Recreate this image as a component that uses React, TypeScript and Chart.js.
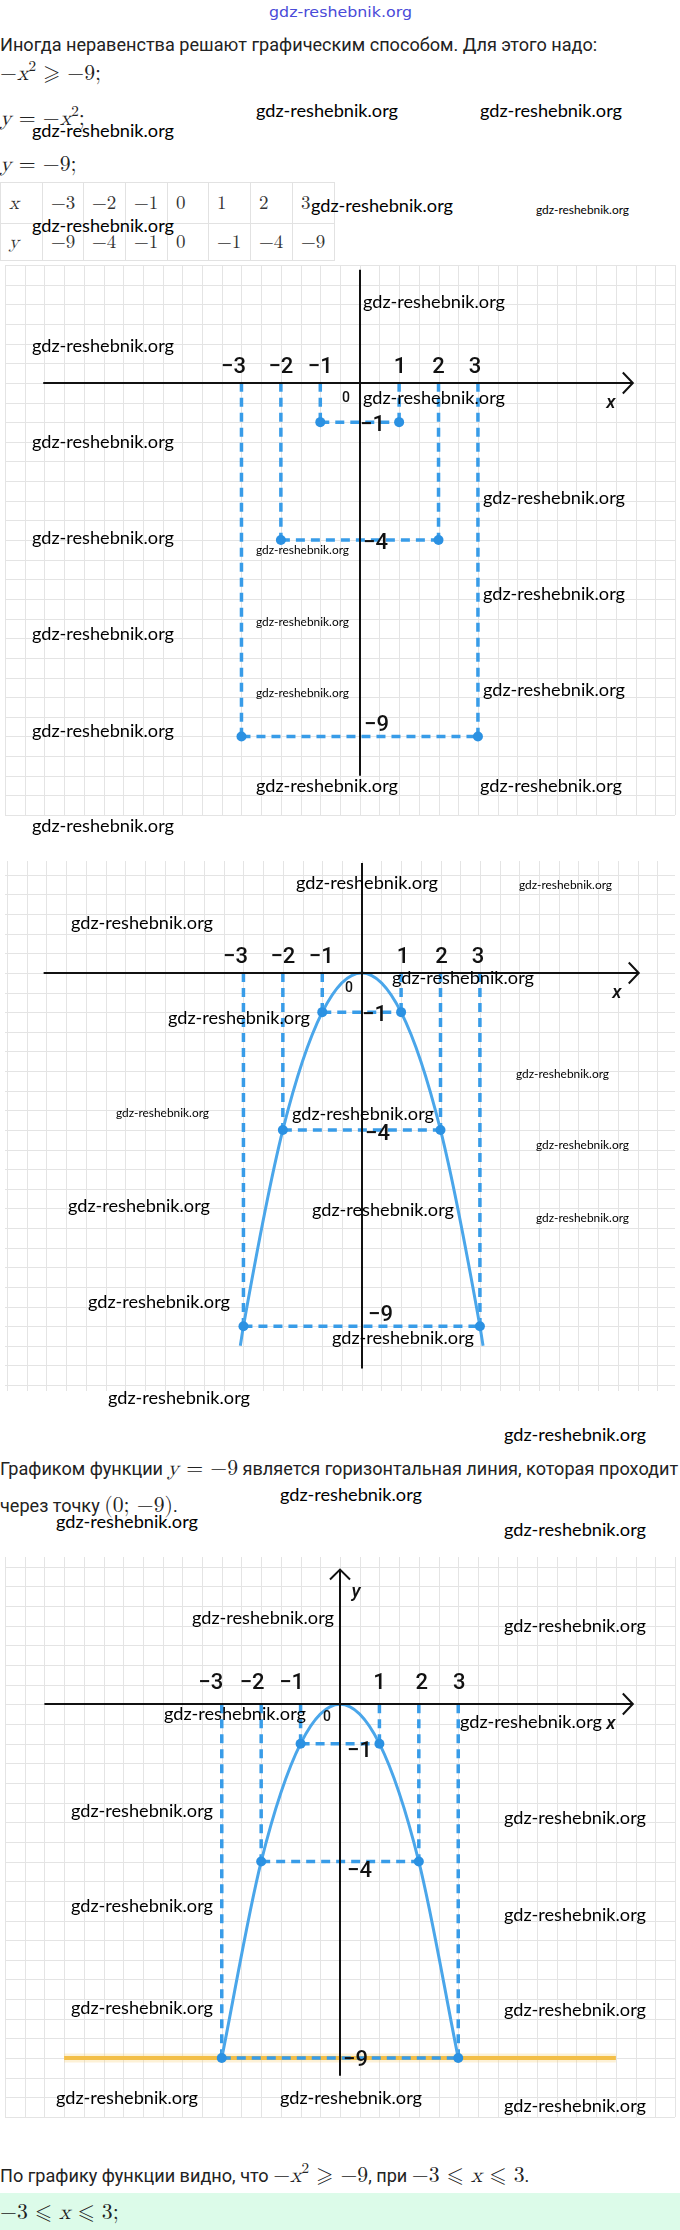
import React, { useEffect, useMemo, useRef } from "react";
import { Chart, registerables } from "chart.js";
Chart.register(...registerables);

// ---------- data ----------
const xValues = [-3, -2, -1, 0, 1, 2, 3];
const yValues = [-9, -4, -1, 0, -1, -4, -9];
const tableXLabels = ["−3", "−2", "−1", "0", "1", "2", "3"];
const tableYLabels = ["−9", "−4", "−1", "0", "−1", "−4", "−9"];
const xTickValues = [-3, -2, -1, 1, 2, 3];
const xTickLabels = ["−3", "−2", "−1", "1", "2", "3"];
const yTickValues = [-1, -4, -9];
const yTickLabels = ["−1", "−4", "−9"];
const curveEndX = [-3.08, 3.08];
const curveEndY = [-9.5, -9.5];
const horizLineY = -9;
const horizLineX = [-7, 7];

const WATERMARK = "gdz-reshebnik.org";

// ---------- fonts ----------
const PROSE = 'Roboto, "Noto Sans", sans-serif';
const MATHF = '"Latin Modern Math", "Liberation Serif", "DejaVu Serif", serif';
const WMF = 'Lato, "Open Sans", sans-serif';
const LABELF = 'Roboto, "Liberation Sans", sans-serif';

let measureCtx: CanvasRenderingContext2D | null = null;
function measure(text: string, font: string) {
  if (!measureCtx) measureCtx = document.createElement("canvas").getContext("2d");
  measureCtx!.font = font;
  return measureCtx!.measureText(text).width;
}

// ---------- chart helpers ----------
function pointData() {
  return xValues.map((x, i) => ({ x, y: yValues[i] })).filter((p) => p.x !== 0);
}
function guideData() {
  const d: any[] = [];
  xValues.forEach((x, i) => {
    if (x === 0) return;
    d.push({ x, y: 0 }, { x, y: yValues[i] }, { x, y: null });
  });
  xValues.forEach((x, i) => {
    if (x <= 0) return;
    const j = xValues.indexOf(-x);
    d.push({ x: -x, y: yValues[j] }, { x, y: yValues[i] }, { x, y: null });
  });
  return d;
}
function curveData(ext: boolean) {
  const pts = xValues.map((x, i) => ({ x, y: yValues[i] }));
  if (!ext) return pts;
  return [{ x: curveEndX[0], y: curveEndY[0] }, ...pts, { x: curveEndX[1], y: curveEndY[1] }];
}

type Cfg = {
  top: number; height: number; origin: [number, number];
  xAxis: [number, number]; yAxis: [number, number]; yArrow: boolean;
  xLabelDy: number; xLabelDx: number[];
  yLabel: { dx: number; dy: number }[];
  zero: [number, number]; xName: [number, number]; yName?: [number, number];
  curve: boolean; curveExt: boolean; orange: boolean;
};

const charts: Cfg[] = [
  {
    top: 260, height: 560, origin: [360, 380],
    xAxis: [-8.03, 6.93], yAxis: [-10, 2.88], yArrow: false,
    xLabelDy: -16, xLabelDx: [-8, 0, 0, 1, 0, -3],
    yLabel: [{ dx: 0, dy: 3 }, { dx: 3, dy: 3 }, { dx: 4, dy: -11 }],
    zero: [-14, 15], xName: [251, 20],
    curve: false, curveExt: false, orange: false,
  },
  {
    top: 856, height: 540, origin: [362, 970],
    xAxis: [-8.07, 7.03], yAxis: [-10.08, 2.8], yArrow: false,
    xLabelDy: -16, xLabelDx: [-8, 0, -1, 2, 1, -2],
    yLabel: [{ dx: 0, dy: 3 }, { dx: 3, dy: 5 }, { dx: 6, dy: -11 }],
    zero: [-13, 15], xName: [255, 20],
    curve: true, curveExt: true, orange: false,
  },
  {
    top: 1552, height: 570, origin: [340, 1702],
    xAxis: [-7.5, 7.43], yAxis: [-9.45, 3.43], yArrow: true,
    xLabelDy: -21, xLabelDx: [-11, -9, -9, 0, 3, 1],
    yLabel: [{ dx: 7, dy: 8 }, { dx: 7, dy: 10 }, { dx: 3, dy: 2 }],
    zero: [-13, 13], xName: [271, 20], yName: [16, -112],
    curve: true, curveExt: false, orange: true,
  },
];

const UNIT = 40;

function makePlugin(cfg: Cfg) {
  return {
    id: "mathAxes",
    beforeDatasetsDraw(chart: any) {
      const { ctx, chartArea: ca, scales } = chart;
      const x = scales.x, y = scales.y;
      ctx.save();
      ctx.strokeStyle = "#e4e4e4";
      ctx.lineWidth = 1;
      ctx.beginPath();
      for (let v = Math.ceil(x.min * 2) / 2; v <= x.max + 1e-9; v += 0.5) {
        const p = Math.round(x.getPixelForValue(v)) + 0.5;
        ctx.moveTo(p, ca.top);
        ctx.lineTo(p, ca.bottom);
      }
      for (let v = Math.ceil(y.min * 2) / 2; v <= y.max + 1e-9; v += 0.5) {
        const p = Math.round(y.getPixelForValue(v)) + 0.5;
        ctx.moveTo(ca.left, p);
        ctx.lineTo(ca.right, p);
      }
      ctx.stroke();
      ctx.restore();
    },
    afterDatasetsDraw(chart: any) {
      const { ctx, scales } = chart;
      const x = scales.x, y = scales.y;
      const px0 = Math.round(x.getPixelForValue(0));
      const py0 = Math.round(y.getPixelForValue(0));
      ctx.save();
      ctx.strokeStyle = "#111";
      ctx.lineWidth = 2;
      ctx.lineJoin = "miter";
      // x axis
      const xl = x.getPixelForValue(cfg.xAxis[0]);
      const xr = x.getPixelForValue(cfg.xAxis[1]);
      ctx.beginPath();
      ctx.moveTo(xl, py0);
      ctx.lineTo(xr, py0);
      ctx.stroke();
      ctx.beginPath();
      ctx.moveTo(xr - 10, py0 - 10.5);
      ctx.lineTo(xr, py0);
      ctx.lineTo(xr - 10, py0 + 10.5);
      ctx.stroke();
      // y axis
      const yt = y.getPixelForValue(cfg.yAxis[1]);
      const yb = y.getPixelForValue(cfg.yAxis[0]);
      ctx.beginPath();
      ctx.moveTo(px0, yt);
      ctx.lineTo(px0, yb);
      ctx.stroke();
      if (cfg.yArrow) {
        ctx.beginPath();
        ctx.moveTo(px0 - 10, yt + 10);
        ctx.lineTo(px0, yt);
        ctx.lineTo(px0 + 10, yt + 10);
        ctx.stroke();
      }
      // labels
      ctx.fillStyle = "#111";
      ctx.textBaseline = "middle";
      ctx.font = `500 22px ${LABELF}`;
      ctx.textAlign = "center";
      xTickValues.forEach((v, i) => {
        ctx.fillText(xTickLabels[i], x.getPixelForValue(v) + cfg.xLabelDx[i], py0 + cfg.xLabelDy);
      });
      ctx.textAlign = "left";
      yTickValues.forEach((v, i) => {
        ctx.fillText(yTickLabels[i], px0 + cfg.yLabel[i].dx, y.getPixelForValue(v) + cfg.yLabel[i].dy);
      });
      ctx.textAlign = "center";
      ctx.font = `500 14px ${LABELF}`;
      ctx.fillText("0", px0 + cfg.zero[0], py0 + cfg.zero[1]);
      ctx.font = `italic 500 19px ${LABELF}`;
      ctx.fillText("x", px0 + cfg.xName[0], py0 + cfg.xName[1]);
      if (cfg.yName) ctx.fillText("y", px0 + cfg.yName[0], py0 + cfg.yName[1]);
      ctx.restore();
    },
  };
}

function Plot({ cfg }: { cfg: Cfg }) {
  const ref = useRef<HTMLCanvasElement>(null);
  useEffect(() => {
    const [ox, oy] = cfg.origin;
    const xMin = -ox / UNIT;
    const xMax = (680 - ox) / UNIT;
    const yMax = (oy - cfg.top) / UNIT;
    const yMin = -(cfg.top + cfg.height - oy) / UNIT;
    const datasets: any[] = [
      {
        data: pointData(), showLine: false, pointRadius: 5, pointHoverRadius: 5,
        pointBackgroundColor: "#2b91e2", pointBorderWidth: 0, order: 0,
      },
    ];
    if (cfg.curve) {
      datasets.push({
        data: curveData(cfg.curveExt), showLine: true, borderColor: "#4aa6ea", borderWidth: 3,
        pointRadius: 0, cubicInterpolationMode: "monotone", order: 1,
      });
    }
    datasets.push({
      data: guideData(), showLine: true, borderColor: "#389ce8", borderWidth: 3.5,
      borderDash: [9, 6], pointRadius: 0, spanGaps: false, order: 2,
    });
    if (cfg.orange) {
      const od = horizLineX.map((xv) => ({ x: xv, y: horizLineY }));
      datasets.push({
        data: od, showLine: true, borderColor: "#f3bf48", borderWidth: 4, pointRadius: 0, order: 3,
      });
      datasets.push({
        data: od, showLine: true, borderColor: "rgba(250,210,120,0.3)", borderWidth: 9, pointRadius: 0, order: 4,
      });
    }
    const chart = new Chart(ref.current!, {
      type: "scatter",
      data: { datasets },
      options: {
        animation: false,
        responsive: false,
        maintainAspectRatio: false,
        devicePixelRatio: 1,
        events: [],
        layout: { padding: 0 },
        plugins: { legend: { display: false }, tooltip: { enabled: false } },
        scales: {
          x: { type: "linear", display: false, min: xMin, max: xMax },
          y: { type: "linear", display: false, min: yMin, max: yMax },
        },
      },
      plugins: [makePlugin(cfg)],
    } as any);
    return () => chart.destroy();
  }, [cfg]);
  return (
    <canvas
      ref={ref}
      width={680}
      height={cfg.height}
      style={{ position: "absolute", left: 0, top: cfg.top, width: 680, height: cfg.height }}
    />
  );
}

// ---------- text helpers ----------
function V({ children }: any) {
  return <i style={{ fontFamily: MATHF }}>{children}</i>;
}
function Sup({ children }: any) {
  return <span style={{ fontSize: "0.7em", position: "relative", top: "-0.55em" }}>{children}</span>;
}
function M({ children }: any) {
  return <span style={{ fontFamily: MATHF, fontSize: "1.2em", whiteSpace: "nowrap" }}>{children}</span>;
}
function Line({ cy, size, children, left = 0 }: any) {
  const L = Math.round(size * 1.6);
  return (
    <div style={{ position: "absolute", left, top: cy - L / 2, height: L, lineHeight: L + "px", fontSize: size, whiteSpace: "nowrap" }}>
      {children}
    </div>
  );
}

function WM({ x, y, small }: { x: number; y: number; small?: boolean }) {
  const size = small ? 11 : 17;
  const w = small ? 93 : 142;
  const k = w / measure(WATERMARK, `${size}px ${WMF}`);
  return (
    <div
      style={{
        position: "absolute", left: x, top: y - size * 0.63, fontSize: size, lineHeight: 1,
        fontFamily: WMF, color: "#000", whiteSpace: "nowrap",
        transform: `scaleX(${k})`, transformOrigin: "0 0",
      }}
    >
      {WATERMARK}
    </div>
  );
}

const bigMarks: [number, number][] = [
  [256, 113], [480, 113], [32, 133], [311, 208], [32, 228],
  [363, 304], [32, 348], [363, 400], [32, 444], [483, 500], [32, 540],
  [483, 596], [32, 636], [483, 692], [32, 733], [256, 788], [480, 788], [32, 828],
  [296, 885], [71, 925], [392, 980], [168, 1020], [292, 1116], [68, 1208], [312, 1212],
  [88, 1304], [332, 1340], [108, 1400],
  [504, 1437], [280, 1497], [56, 1524], [504, 1532], [192, 1620], [504, 1628],
  [164, 1716], [460, 1724], [71, 1813], [504, 1820], [71, 1908], [504, 1917],
  [71, 2010], [504, 2012], [56, 2100], [280, 2100], [504, 2108],
];
const smallMarks: [number, number][] = [
  [536, 211], [256, 551], [256, 623], [256, 694], [519, 886], [516, 1075],
  [116, 1114], [536, 1146], [536, 1219],
];

const P1 = "Иногда неравенства решают графическим способом. Для этого надо:";

const colW = [42, 41, 42, 42, 41, 42, 42, 42];

export default function App() {
  const proseSize = useMemo(() => {
    const m = measure(P1, `17px ${PROSE}`);
    return Math.round((17 * 596) / m * 10) / 10;
  }, []);
  const topK = useMemo(() => 143 / measure(WATERMARK, `14px "DejaVu Sans"`), []);
  const cellStyle = (i: number, h: number): React.CSSProperties => ({
    border: "1px solid #e2e2e2",
    width: colW[i],
    height: h,
    padding: "0 0 0 8px",
    boxSizing: "border-box",
    verticalAlign: "middle",
    whiteSpace: "nowrap",
  });
  return (
    <div
      style={{
        position: "absolute", left: 0, top: 0, width: 680, height: 2230, overflow: "hidden",
        background: "#fff", color: "#222", fontFamily: PROSE,
      }}
    >
      {/* top blue watermark */}
      <div
        style={{
          position: "absolute", left: 269, top: 13 - 14 * 0.6, fontSize: 14, lineHeight: 1,
          fontFamily: '"DejaVu Sans", sans-serif', color: "#4a4ad8", whiteSpace: "nowrap",
          transform: `scaleX(${topK})`, transformOrigin: "0 0",
        }}
      >
        {WATERMARK}
      </div>

      <Line cy={44} size={proseSize}>{P1}</Line>
      <Line cy={73} size={proseSize}>
        <M>−<V>x</V><Sup>2</Sup> ⩾ −9;</M>
      </Line>
      <Line cy={118} size={proseSize}>
        <M><V>y</V> = −<V>x</V><Sup>2</Sup>;</M>
      </Line>
      <Line cy={164} size={proseSize}>
        <M><V>y</V> = −9;</M>
      </Line>

      <div style={{ position: "absolute", left: 0, top: 182 }}>
        <table style={{ borderCollapse: "collapse", tableLayout: "fixed", fontFamily: MATHF, fontSize: 19, color: "#333" }}>
          <tbody>
            <tr>
              <td style={cellStyle(0, 41)}><V>x</V></td>
              {tableXLabels.map((t, i) => (
                <td key={i} style={cellStyle(i + 1, 41)}>{t}</td>
              ))}
            </tr>
            <tr>
              <td style={cellStyle(0, 37)}><V>y</V></td>
              {tableYLabels.map((t, i) => (
                <td key={i} style={cellStyle(i + 1, 37)}>{t}</td>
              ))}
            </tr>
          </tbody>
        </table>
      </div>

      {charts.map((c, i) => (
        <Plot key={i} cfg={c} />
      ))}

      <Line cy={1468} size={proseSize}>
        Графиком функции <M><V>y</V> = −9</M> является горизонтальная линия, которая проходит
      </Line>
      <Line cy={1505} size={proseSize}>
        через точку <M>(0; −9)</M>.
      </Line>

      <Line cy={2175} size={proseSize}>
        По графику функции видно, что <M>−<V>x</V><Sup>2</Sup> ⩾ −9</M>, при <M>−3 ⩽ <V>x</V> ⩽ 3</M>.
      </Line>
      <div style={{ position: "absolute", left: 0, top: 2193, width: 680, height: 37, background: "#dcfbe9" }} />
      <Line cy={2212} size={proseSize}>
        <M>−3 ⩽ <V>x</V> ⩽ 3;</M>
      </Line>

      {bigMarks.map(([x, y], i) => (
        <WM key={"b" + i} x={x} y={y} />
      ))}
      {smallMarks.map(([x, y], i) => (
        <WM key={"s" + i} x={x} y={y} small />
      ))}
    </div>
  );
}
